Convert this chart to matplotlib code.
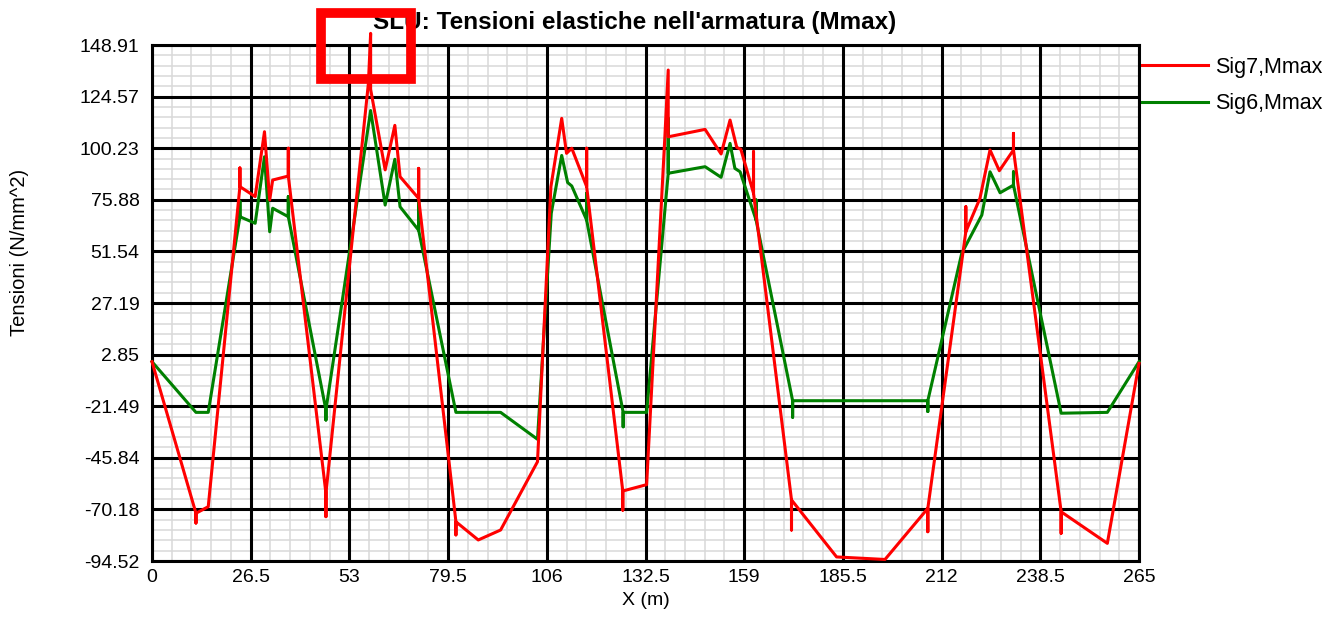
import matplotlib
matplotlib.use("Agg")
import matplotlib.pyplot as plt
from matplotlib.ticker import FixedLocator
from matplotlib.patches import Rectangle

plt.rcParams['font.family'] = ['Liberation Sans', 'DejaVu Sans']

# ---- data ----
x_sig7 = [0, 11.8, 11.8, 11.8, 15.1, 23.6, 23.6, 23.6, 27.7, 30.2, 31.6, 32.4,
          36.6, 36.6, 36.6, 46.7, 46.7, 46.7, 58.1, 58.7, 58.7, 62.6, 65.2, 66.6,
          71.6, 71.6, 71.6, 81.6, 81.6, 81.6, 87.6, 93.6, 103.5, 107.1, 110.0,
          111.3, 112.7, 116.7, 116.7, 116.7, 126.4, 126.4, 126.4, 132.8, 137.7,
          138.6, 138.6, 148.5, 152.8, 155.2, 157.0, 158.1, 161.5, 161.5, 161.5,
          171.7, 171.7, 171.7, 183.8, 196.8, 208.3, 208.3, 208.3, 218.5, 218.5,
          218.5, 222.3, 225.0, 227.5, 231.3, 231.3, 231.3, 244.1, 244.1, 244.1,
          256.5, 265.0]
y_sig7 = [-0.5, -72.0, -76.6, -72.0, -68.9, 82.1, 90.9, 82.1, 77.4, 108.0, 75.8, 85.2,
          87.1, 100.2, 87.1, -62.6, -73.6, -62.6, 130.8, 154.4, 128.0, 90.0, 111.0, 86.8,
          76.5, 90.7, 76.5, -76.0, -82.2, -76.0, -84.6, -79.9, -47.7, 82.0, 114.3,
          97.8, 100.2, 82.1, 100.2, 82.1, -61.5, -70.5, -61.5, -58.5, 105.6,
          137.1, 105.6, 109.1, 97.5, 113.5, 100.6, 99.7, 79.0, 98.6, 79.0,
          -65.7, -79.9, -65.7, -92.6, -93.8, -69.7, -80.7, -69.7, 60.8, 72.6,
          60.8, 76.6, 99.4, 89.6, 99.4, 107.2, 99.4, -71.3, -81.4, -71.3,
          -86.2, -1.3]

x_sig6 = [0, 11.8, 15.1, 23.6, 23.6, 23.6, 27.7, 30.2, 31.6, 32.4, 36.6, 36.6, 36.6,
          46.7, 46.7, 46.7, 58.7, 62.6, 65.2, 66.6, 71.6, 71.6, 71.6, 81.6, 93.6,
          103.5, 107.2, 110.0, 111.6, 112.7, 116.7, 116.7, 116.7, 126.5, 126.5, 126.5,
          132.8, 138.6, 138.6, 138.6, 148.5, 152.8, 155.2, 156.5, 157.9,
          162.2, 162.2, 162.2, 172.0, 172.0, 172.0, 208.3, 208.3, 208.3,
          217.4, 222.8, 225.0, 227.7, 231.3, 231.3, 231.3, 244.1, 256.5, 265.0]
y_sig6 = [-0.5, -24.4, -24.4, 67.9, 75.0, 67.9, 64.8, 96.2, 60.8, 71.9, 67.9, 77.4, 67.9,
          -23.3, -28.0, -23.3, 118.0, 73.4, 95.0, 72.6, 61.5, 75.0, 61.5, -24.4, -24.4,
          -37.1, 69.5, 96.8, 84.0, 82.4, 66.3, 79.0, 66.3, -24.4, -31.2, -24.4,
          -24.4, 88.4, 114.3, 88.4, 91.5, 86.5, 102.5, 90.7, 89.1,
          66.3, 75.8, 66.3, -18.9, -26.7, -18.9, -18.9, -24.0, -18.9,
          50.6, 68.7, 89.1, 79.2, 82.8, 89.1, 82.8, -24.8, -24.4, -0.5]

x_ticks = [0, 26.5, 53, 79.5, 106, 132.5, 159, 185.5, 212, 238.5, 265]
x_tick_labels = ["0", "26.5", "53", "79.5", "106", "132.5", "159", "185.5", "212", "238.5", "265"]
y_ticks = [148.91, 124.57, 100.23, 75.88, 51.54, 27.19, 2.85, -21.49, -45.84, -70.18, -94.52]
y_tick_labels = ["148.91", "124.57", "100.23", "75.88", "51.54", "27.19", "2.85",
                 "-21.49", "-45.84", "-70.18", "-94.52"]
series_names = ["Sig7,Mmax", "Sig6,Mmax"]
series_colors = ["#ff0000", "#008000"]

W, H = 1339, 620
fig = plt.figure(figsize=(W / 100, H / 100), dpi=100)
ax = fig.add_axes([152 / W, 1 - 561 / H, (1139 - 152) / W, (561 - 45) / H])

ax.set_xlim(0, 265)
ax.set_ylim(-94.52, 148.91)

ax.xaxis.set_major_locator(FixedLocator(x_ticks))
ax.set_xticklabels(x_tick_labels)
ax.yaxis.set_major_locator(FixedLocator(y_ticks))
ax.set_yticklabels(y_tick_labels)

# minor grid: 5 subdivisions, excluding the major positions
xstep = 26.5 / 5
ystep = (148.91 + 94.52) / 10 / 5
x_minor = [i * xstep for i in range(51) if i % 5 != 0]
y_minor = [-94.52 + i * ystep for i in range(51) if i % 5 != 0]
ax.xaxis.set_minor_locator(FixedLocator(x_minor))
ax.yaxis.set_minor_locator(FixedLocator(y_minor))
ax.grid(which='minor', color='#d9d9d9', linewidth=1.1)
ax.set_axisbelow(True)

# major grid drawn above the minor grid
ax.vlines(x_ticks, -94.52, 148.91, colors='black', linewidth=2.2, zorder=1)
ax.hlines(y_ticks, 0, 265, colors='black', linewidth=2.2, zorder=1)

ax.tick_params(which='both', length=0)
ax.tick_params(axis='y', pad=9, labelsize=14)
ax.tick_params(axis='x', pad=6, labelsize=14)
for s in ax.spines.values():
    s.set_linewidth(2.2)
    s.set_color('black')

l7, = ax.plot(x_sig7, y_sig7, color=series_colors[0], linewidth=2.2, clip_on=False,
              zorder=4)
l6, = ax.plot(x_sig6, y_sig6, color=series_colors[1], linewidth=2.2, clip_on=False,
              zorder=3)

ax.set_xlabel("X (m)", fontsize=14, labelpad=4)
fig.text(20 / W, 1 - 252 / H, "Tensioni (N/mm^2)", rotation=90, ha='center', va='center',
         fontsize=14.5)
fig.text(635 / W, 1 - 23 / H, "SLU: Tensioni elastiche nell'armatura (Mmax)",
         ha='center', va='center', fontsize=17.5, fontweight='bold', zorder=5)

leg = fig.legend([l7, l6], series_names, loc='upper left',
                 bbox_to_anchor=(1142 / W, 1 - 57 / H), frameon=False,
                 fontsize=15.5, handlelength=3.05, handletextpad=0.33,
                 labelspacing=0.72, borderpad=0, borderaxespad=0)

rect = Rectangle((320.5 / W, 1 - 79 / H), (410.5 - 320.5) / W, (79 - 13.3) / H,
                 transform=fig.transFigure, fill=False, edgecolor='#ff0000',
                 linewidth=7, zorder=10, joinstyle='miter')
fig.add_artist(rect)

fig.savefig("out.png", dpi=100)
